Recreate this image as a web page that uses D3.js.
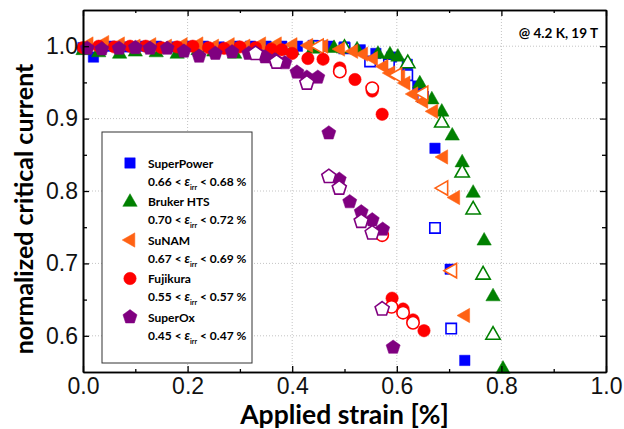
<!DOCTYPE html>
<html>
<head>
<meta charset="utf-8">
<script src="https://cdn.jsdelivr.net/npm/d3@7"></script>
<style>
  html, body { margin: 0; padding: 0; background: #fff; }
  svg { display: block; }
</style>
</head>
<body>
<svg id="chart" width="624" height="429"></svg>
<script>
// Normalized critical current versus applied strain, five REBCO tape makers.
const xTicks = [0.0, 0.2, 0.4, 0.6, 0.8, 1.0];
const yTicks = [0.6, 0.7, 0.8, 0.9, 1.0];
const xLabel = "Applied strain [%]";
const yLabel = "normalized critical current";
const noteText = "@ 4.2 K, 19 T";

const makers = ["SuperPower", "Bruker HTS", "SuNAM", "Fujikura", "SuperOx"];
const irrLow = ["0.66", "0.70", "0.67", "0.55", "0.45"];
const irrHigh = ["0.68", "0.72", "0.69", "0.57", "0.47"];

// SuperPower
const spX = [0.0, 0.02, 0.05, 0.08, 0.11, 0.14, 0.17, 0.2, 0.23, 0.26, 0.29, 0.32, 0.35, 0.38, 0.41, 0.44, 0.47, 0.5, 0.53, 0.56, 0.59, 0.62, 0.64, 0.673, 0.702, 0.730];
const spY = [0.998, 0.985, 1.0, 0.999, 1.0, 1.0, 0.999, 1.0, 1.0, 0.999, 1.0, 1.0, 1.0, 1.0, 1.0, 1.001, 1.0, 0.999, 0.995, 0.99, 0.985, 0.975, 0.945, 0.859, 0.692, 0.566];
const spOpenX = [0.45, 0.5, 0.549, 0.585, 0.62, 0.65, 0.673, 0.704];
const spOpenY = [1.0, 0.997, 0.979, 0.975, 0.96, 0.93, 0.749, 0.61];

// Bruker HTS
const brX = [0.0, 0.03, 0.07, 0.1, 0.14, 0.18, 0.22, 0.25, 0.29, 0.33, 0.36, 0.4, 0.44, 0.48, 0.524, 0.564, 0.587, 0.602, 0.644, 0.667, 0.686, 0.706, 0.725, 0.746, 0.767, 0.784, 0.803];
const brY = [0.995, 0.992, 0.99, 0.993, 0.992, 0.99, 0.995, 0.993, 0.99, 0.99, 0.995, 0.995, 0.997, 0.998, 0.996, 0.99, 0.989, 0.986, 0.949, 0.927, 0.91, 0.877, 0.84, 0.798, 0.732, 0.655, 0.555];
const brOpenX = [0.5, 0.621, 0.686, 0.725, 0.746, 0.765, 0.784];
const brOpenY = [0.998, 0.977, 0.895, 0.826, 0.775, 0.685, 0.602];

// SuNAM
const snX = [0.01, 0.04, 0.07, 0.1, 0.13, 0.16, 0.19, 0.22, 0.25, 0.28, 0.31, 0.34, 0.37, 0.4, 0.43, 0.459, 0.491, 0.516, 0.535, 0.554, 0.574, 0.587, 0.606, 0.616, 0.631, 0.65, 0.669, 0.688, 0.711, 0.730];
const snY = [1.003, 1.005, 1.003, 1.0, 1.002, 1.0, 1.002, 1.003, 1.0, 1.002, 1.0, 1.003, 1.003, 1.002, 1.001, 1.0, 0.996, 0.993, 0.989, 0.983, 0.972, 0.963, 0.958, 0.949, 0.934, 0.924, 0.91, 0.847, 0.791, 0.628];
const snOpenX = [0.45, 0.6, 0.65, 0.688, 0.705];
const snOpenY = [1.0, 0.96, 0.935, 0.804, 0.69];

// Fujikura
const fjX = [0.0, 0.03, 0.06, 0.09, 0.12, 0.15, 0.18, 0.21, 0.24, 0.27, 0.3, 0.33, 0.36, 0.38, 0.40, 0.43, 0.459, 0.491, 0.52, 0.553, 0.572, 0.591, 0.612, 0.631, 0.652];
const fjY = [0.998, 1.0, 0.999, 1.0, 1.0, 0.998, 0.999, 1.0, 0.998, 0.997, 0.999, 0.998, 0.996, 0.995, 0.99, 0.983, 0.982, 0.97, 0.954, 0.938, 0.906, 0.652, 0.637, 0.622, 0.607];
const fjOpenX = [0.491, 0.553, 0.572, 0.59, 0.612, 0.631];
const fjOpenY = [0.965, 0.942, 0.739, 0.64, 0.632, 0.618];

// SuperOx
const soX = [0.008, 0.036, 0.069, 0.1, 0.128, 0.161, 0.193, 0.222, 0.253, 0.285, 0.317, 0.348, 0.367, 0.386, 0.409, 0.428, 0.449, 0.47, 0.49, 0.51, 0.532, 0.553, 0.573, 0.593];
const soY = [0.997, 0.996, 0.997, 0.998, 0.997, 0.997, 0.993, 0.986, 0.99, 0.992, 0.99, 0.985, 0.981, 0.977, 0.964, 0.957, 0.957, 0.88, 0.816, 0.785, 0.771, 0.76, 0.747, 0.584];
const soOpenX = [0.33, 0.37, 0.428, 0.47, 0.49, 0.532, 0.553, 0.572];
const soOpenY = [0.99, 0.978, 0.949, 0.82, 0.804, 0.758, 0.742, 0.637];

const colors = ["#0000ff", "#008000", "#ff6214", "#ff0000", "#800080"];
const shapes = ["square", "triangle", "leftTriangle", "circle", "pentagon"];

const series = [
  { x: spX, y: spY, ox: spOpenX, oy: spOpenY },
  { x: brX, y: brY, ox: brOpenX, oy: brOpenY },
  { x: snX, y: snY, ox: snOpenX, oy: snOpenY },
  { x: fjX, y: fjY, ox: fjOpenX, oy: fjOpenY },
  { x: soX, y: soY, ox: soOpenX, oy: soOpenY }
];

const svg = d3.select("#chart");
const plotLeft = 83, plotRight = 606, plotTop = 10, plotBottom = 372;

const x = d3.scaleLinear().domain([0, 1]).range([plotLeft, plotRight]);
const y = d3.scaleLinear().domain([0.55, 1.05]).range([plotBottom, plotTop]);

// marker path for a shape, centred on the origin
function markerPath(shape) {
  const p = d3.path();
  if (shape === "square") {
    const s = 5.2;
    p.rect(-s, -s, 2 * s, 2 * s);
  } else if (shape === "triangle") {
    const r = 7.8;
    p.moveTo(0, -r); p.lineTo(r * 0.92, r * 0.62); p.lineTo(-r * 0.92, r * 0.62); p.closePath();
  } else if (shape === "leftTriangle") {
    const r = 7.8;
    p.moveTo(-r, 0); p.lineTo(r * 0.62, -r * 0.92); p.lineTo(r * 0.62, r * 0.92); p.closePath();
  } else if (shape === "circle") {
    p.arc(0, 0, 6.2, 0, 2 * Math.PI); p.closePath();
  } else {
    const r = 7.4;
    for (let i = 0; i < 5; i++) {
      const a = -Math.PI / 2 + i * 2 * Math.PI / 5;
      const px = r * Math.cos(a), py = r * Math.sin(a);
      if (i === 0) p.moveTo(px, py); else p.lineTo(px, py);
    }
    p.closePath();
  }
  return p.toString();
}

// dotted grid at major ticks
const grid = svg.append("g");
grid.selectAll("line.gx").data(xTicks.filter(v => v > 0 && v < 1)).join("line")
  .attr("x1", d => x(d)).attr("x2", d => x(d)).attr("y1", plotTop).attr("y2", plotBottom)
  .attr("stroke", "#c4c4c4").attr("stroke-width", 1).attr("stroke-dasharray", "1,2");
grid.selectAll("line.gy").data(yTicks).join("line")
  .attr("y1", d => y(d)).attr("y2", d => y(d)).attr("x1", plotLeft).attr("x2", plotRight)
  .attr("stroke", "#c4c4c4").attr("stroke-width", 1).attr("stroke-dasharray", "1,2");

// data markers
const plot = svg.append("g");
series.forEach((s, i) => {
  const path = markerPath(shapes[i]);
  const filled = s.x.map((v, k) => [v, s.y[k]]);
  const open = s.ox.map((v, k) => [v, s.oy[k]]);
  plot.append("g").selectAll("path").data(filled).join("path")
    .attr("d", path).attr("transform", d => `translate(${x(d[0])},${y(d[1])})`)
    .attr("fill", colors[i]).attr("stroke", colors[i]).attr("stroke-width", 0.5);
  plot.append("g").selectAll("path").data(open).join("path")
    .attr("d", path).attr("transform", d => `translate(${x(d[0])},${y(d[1])})`)
    .attr("fill", "#fff").attr("stroke", colors[i]).attr("stroke-width", 1.6);
});

// frame with inward ticks on all four sides
const xMinor = [0.1, 0.3, 0.5, 0.7, 0.9];
const yMinor = [0.65, 0.75, 0.85, 0.95];
const axisG = svg.append("g").attr("font-family", "'Liberation Sans', Arial, sans-serif");

const bottomAxis = d3.axisBottom(x).tickValues(xTicks).tickFormat(d3.format(".1f")).tickSizeInner(-6).tickSizeOuter(0).tickPadding(6);
const leftAxis = d3.axisLeft(y).tickValues(yTicks).tickFormat(d3.format(".1f")).tickSizeInner(-6).tickSizeOuter(0).tickPadding(5);

axisG.append("g").attr("transform", `translate(0,${plotBottom})`).call(bottomAxis);
axisG.append("g").attr("transform", `translate(${plotLeft},0)`).call(leftAxis);
axisG.append("g").attr("transform", `translate(0,${plotTop})`)
  .call(d3.axisTop(x).tickValues(xTicks).tickFormat("").tickSizeInner(-6).tickSizeOuter(0));
axisG.append("g").attr("transform", `translate(${plotRight},0)`)
  .call(d3.axisRight(y).tickValues(yTicks).tickFormat("").tickSizeInner(-6).tickSizeOuter(0));

axisG.append("g").attr("transform", `translate(0,${plotBottom})`)
  .call(d3.axisBottom(x).tickValues(xMinor).tickFormat("").tickSizeInner(-3).tickSizeOuter(0));
axisG.append("g").attr("transform", `translate(0,${plotTop})`)
  .call(d3.axisTop(x).tickValues(xMinor).tickFormat("").tickSizeInner(-3).tickSizeOuter(0));
axisG.append("g").attr("transform", `translate(${plotLeft},0)`)
  .call(d3.axisLeft(y).tickValues(yMinor).tickFormat("").tickSizeInner(-4).tickSizeOuter(0));
axisG.append("g").attr("transform", `translate(${plotRight},0)`)
  .call(d3.axisRight(y).tickValues(yMinor).tickFormat("").tickSizeInner(-4).tickSizeOuter(0));

axisG.selectAll(".domain").attr("stroke", "#000").attr("stroke-width", 1.6);
axisG.selectAll(".tick line").attr("stroke", "#000").attr("stroke-width", 1.3);
axisG.selectAll(".tick text").attr("font-size", 23).attr("fill", "#111");

// axis titles
const titleFont = "Lato, 'Open Sans', sans-serif";
svg.append("text").attr("x", x(0.5)).attr("y", 424).attr("text-anchor", "middle")
  .attr("font-family", titleFont).attr("font-weight", "bold").attr("font-size", 26.5)
  .text(xLabel);
svg.append("text").attr("transform", `translate(33,209) rotate(-90)`).attr("text-anchor", "middle")
  .attr("font-family", titleFont).attr("font-weight", "bold").attr("font-size", 25)
  .text(yLabel);

// condition note
svg.append("text").attr("x", 598).attr("y", 38).attr("text-anchor", "end")
  .attr("font-family", titleFont).attr("font-weight", "bold").attr("font-size", 13.5)
  .text(noteText);

// legend
const lg = svg.append("g").attr("font-family", titleFont).attr("font-weight", "bold");
lg.append("rect").attr("x", 102).attr("y", 132).attr("width", 150).attr("height", 231)
  .attr("fill", "#fff").attr("stroke", "#333").attr("stroke-width", 1);
makers.forEach((name, i) => {
  const y0 = 163 + i * 38.5;
  lg.append("path").attr("d", markerPath(shapes[i])).attr("transform", `translate(130,${y0})`)
    .attr("fill", colors[i]).attr("stroke", colors[i]).attr("stroke-width", 0.5);
  lg.append("text").attr("x", 148).attr("y", y0 + 4.5).attr("font-size", 12).text(name);
  const t = lg.append("text").attr("x", 148).attr("y", y0 + 22.5).attr("font-size", 12);
  t.append("tspan").text(irrLow[i] + " < ");
  t.append("tspan").attr("font-style", "italic").attr("font-size", 13).text("ε");
  t.append("tspan").attr("font-size", 7).attr("dy", 4).text("irr");
  t.append("tspan").attr("dy", -4).text(" < " + irrHigh[i] + " %");
});
</script>
</body>
</html>
